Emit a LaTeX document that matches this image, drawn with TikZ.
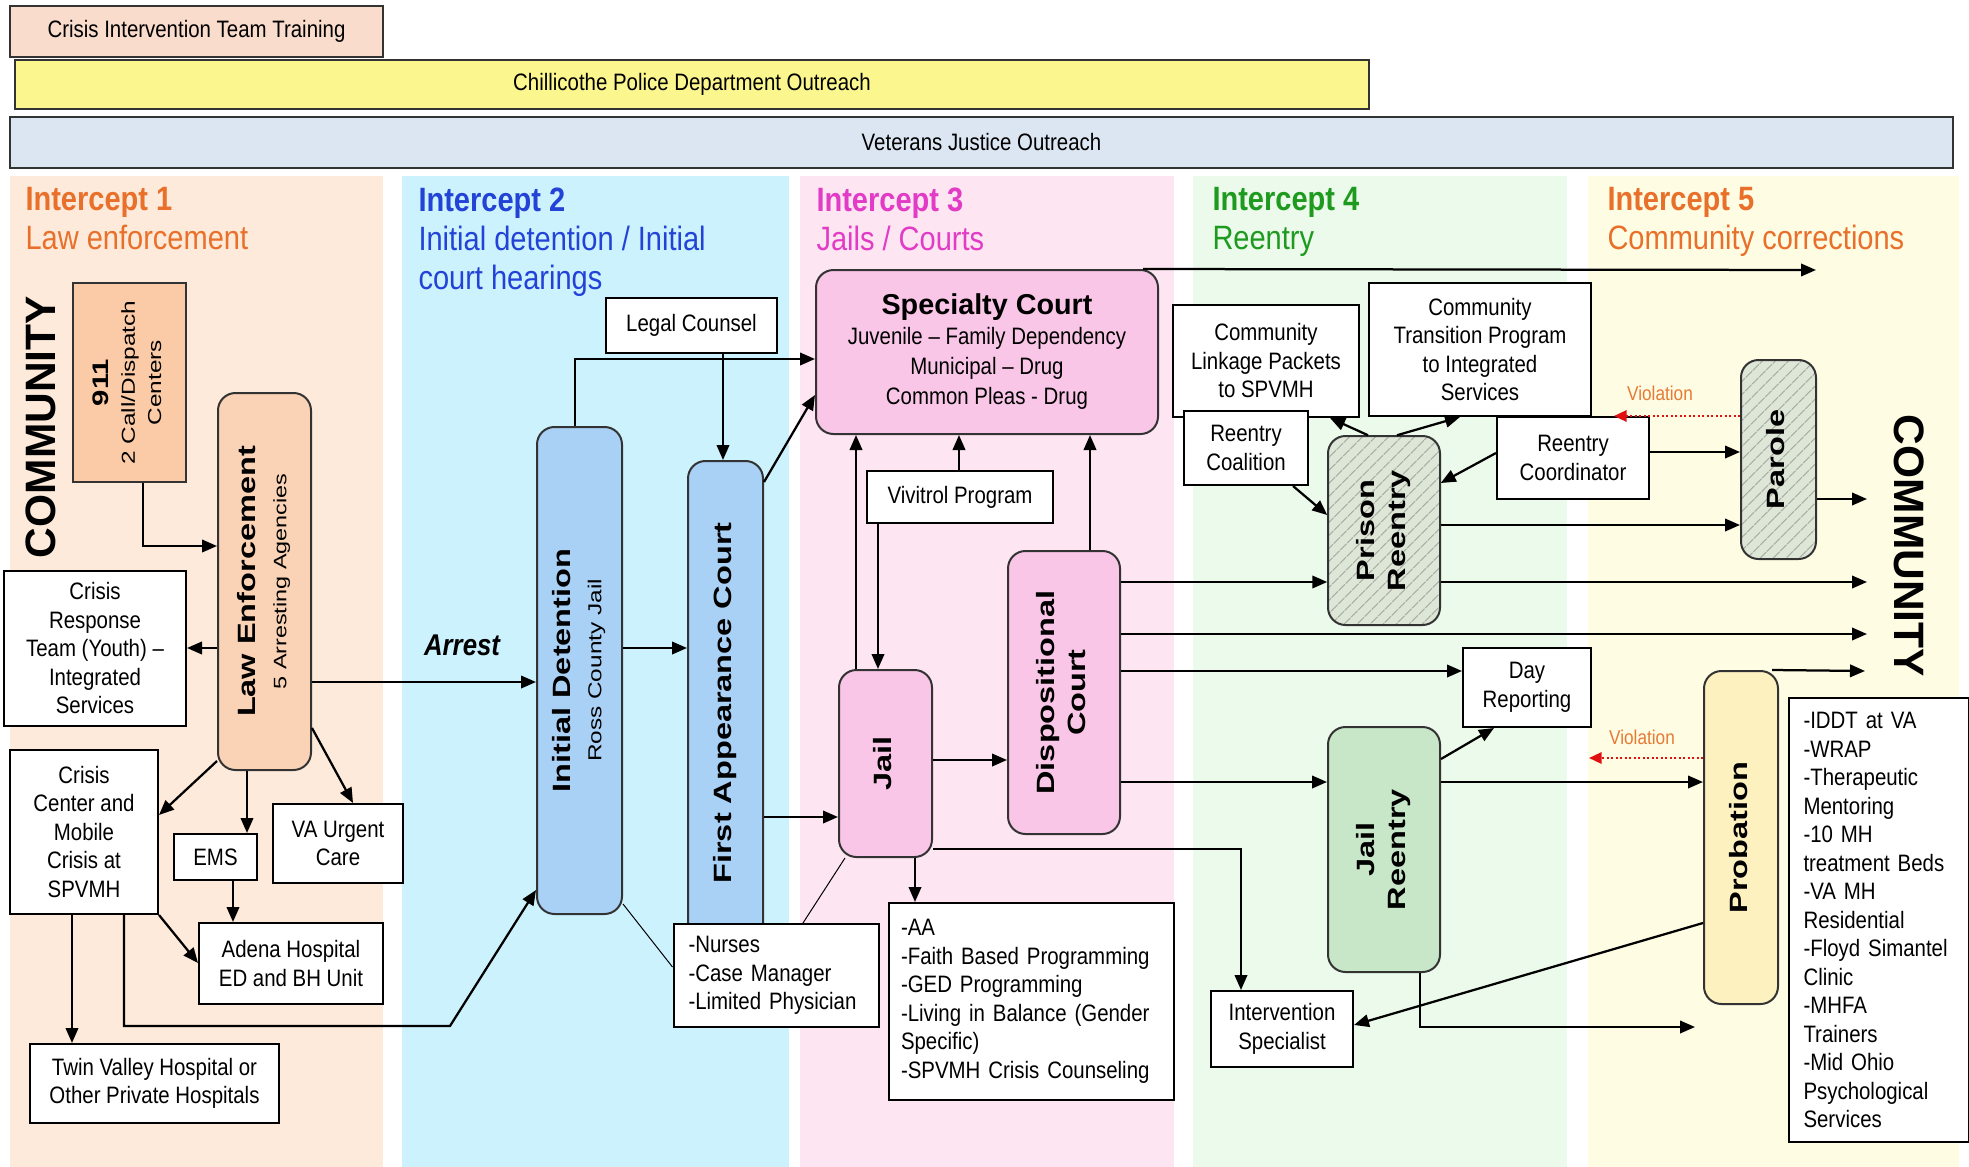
\documentclass[tikz,border=0pt]{standalone}
\usepackage{fontspec}
\setmainfont[FakeStretch=0.86]{Liberation Sans}
\newfontfamily\widesans{Liberation Sans}
\newfontfamily\tallsans[FakeStretch=1.3]{Liberation Sans}
\usetikzlibrary{arrows.meta,patterns.meta}

\definecolor{iOneBg}{HTML}{FDEADA}
\definecolor{iTwoBg}{HTML}{CCF2FE}
\definecolor{iThreeBg}{HTML}{FDE5F1}
\definecolor{iFourBg}{HTML}{EBFAEA}
\definecolor{iFiveBg}{HTML}{FFFCE4}
\definecolor{citFill}{HTML}{F9DCCC}
\definecolor{cpdFill}{HTML}{FBF78E}
\definecolor{vjoFill}{HTML}{DCE6F2}
\definecolor{peachDark}{HTML}{FBCBA7}
\definecolor{peachMid}{HTML}{FAD3B6}
\definecolor{blueBox}{HTML}{A9D0F5}
\definecolor{pinkBox}{HTML}{FAC6E8}
\definecolor{greenBox}{HTML}{C8E7C8}
\definecolor{yellowBox}{HTML}{FDF1C0}
\definecolor{hatchBg}{HTML}{DEE6D8}
\definecolor{hatchLine}{HTML}{A9B0A4}
\definecolor{orangeTitle}{HTML}{E8702A}
\definecolor{blueTitle}{HTML}{2243D6}
\definecolor{pinkTitle}{HTML}{E23CC6}
\definecolor{greenTitle}{HTML}{1E9A1E}
\definecolor{violText}{HTML}{E67A35}
\definecolor{violRed}{HTML}{E01010}

\newcommand{\vtext}[1]{\rotatebox{90}{\begin{tabular}{@{}c@{}}#1\end{tabular}}}

\begin{document}
\begin{tikzpicture}[x=0.4pt, y=-0.4pt,
        box/.style={
            rectangle, draw=black, line width=0.8pt, fill=white, inner sep=1pt,
            align=center, font=\fontsize{9.5}{11.4}\selectfont
        },
        listbox/.style={box, align=left, inner xsep=6pt},
        banner/.style={
            rectangle, draw=black!80, line width=0.7pt, inner sep=0pt,
            font=\fontsize{9.5}{11}\selectfont
        },
        stage/.style={
            rectangle, rounded corners=7pt, draw=black!80, line width=0.8pt, inner sep=0pt,
            font=\tallsans\bfseries\fontsize{10}{12.5}\selectfont
        },
        hatched/.style={
            stage, preaction={fill=hatchBg},
            pattern={Lines[angle=45, distance=4pt, line width=0.6pt]}, pattern color=hatchLine
        },
        title/.style={anchor=north west, inner sep=0pt, align=left, font=\fontsize{13.5}{15.6}\selectfont},
        community/.style={inner sep=0pt, font=\widesans\bfseries\fontsize{17}{17}\selectfont},
        arrest/.style={inner sep=0pt, font=\bfseries\itshape\fontsize{12}{13}\selectfont},
        violab/.style={text=violText, inner sep=0pt, font=\fontsize{8}{9}\selectfont},
        arr/.style={line width=0.9pt, -{Triangle[length=6pt, width=5pt]}},
        viol/.style={violRed, densely dotted, line width=0.8pt, -{Triangle[length=5pt, width=4.5pt]}},
    ]
    \useasboundingbox (0,0) rectangle (1969,1167);

    % columns
    \fill[iOneBg] (10,176) rectangle (383,1167);
    \fill[iTwoBg] (402,176) rectangle (789,1167);
    \fill[iThreeBg] (800,176) rectangle (1174,1167);
    \fill[iFourBg] (1193,176) rectangle (1567,1167);
    \fill[iFiveBg] (1588,176) rectangle (1959,1167);

    % banners
    \node (cit) [banner, fill=citFill, minimum width=149.2pt, minimum height=20.4pt] at (196.5,31.5) {Crisis Intervention Team Training};
    \node (cpd) [banner, fill=cpdFill, minimum width=541.6pt, minimum height=19.6pt] at (692,84.5) {Chillicothe Police Department Outreach};
    \node (vjo) [banner, fill=vjoFill, minimum width=777.2pt, minimum height=20.4pt] at (981.5,142.5) {Veterans Justice Outreach};

    \node (ttlOne) [title, text=orangeTitle] at (25,187) {\textbf{Intercept 1}\\Law enforcement};
    \node (ttlTwo) [title, text=blueTitle] at (418,187) {\textbf{Intercept 2}\\Initial detention / Initial\\court hearings};
    \node (ttlThree) [title, text=pinkTitle] at (816,187) {\textbf{Intercept 3}\\Jails / Courts};
    \node (ttlFour) [title, text=greenTitle] at (1212,187) {\textbf{Intercept 4}\\Reentry};
    \node (ttlFive) [title, text=orangeTitle] at (1607,187) {\textbf{Intercept 5}\\Community corrections};

    \node (commLeft) [community] at (41,427) {\rotatebox{90}{COMMUNITY}};
    \node (commRight) [community] at (1909,546) {\rotatebox{-90}{COMMUNITY}};

    % intercept 1
    \node (dispatch) [stage, rounded corners=0pt, fill=peachDark, minimum width=45.2pt, minimum height=79.6pt, font=\tallsans\bfseries\fontsize{9}{10.5}\selectfont] at (129.5,382.5)
        {\vtext{911\\\mdseries\fontsize{7.5}{9}\selectfont 2 Call/Dispatch\\\mdseries\fontsize{7.5}{9}\selectfont Centers}};
    \node (lawEnf) [stage, fill=peachMid, minimum width=37.2pt, minimum height=150.8pt] at (264.5,581.5)
        {\vtext{Law Enforcement\\\mdseries\fontsize{7.2}{9}\selectfont 5 Arresting Agencies}};
    \node (crisisTeam) [box, minimum width=72.8pt, minimum height=62pt] at (95,648.5) {Crisis\\Response\\Team (Youth) --\\Integrated\\Services};
    \node (crisisCtr) [box, minimum width=59.2pt, minimum height=65.6pt] at (84,832) {Crisis\\Center and\\Mobile\\Crisis at\\SPVMH};
    \node (ems) [box, minimum width=33.2pt, minimum height=18.4pt] at (215.5,857) {EMS};
    \node (vaCare) [box, minimum width=52pt, minimum height=31.6pt] at (338,843.5) {VA Urgent\\Care};
    \node (adena) [box, minimum width=73.6pt, minimum height=32.4pt] at (291,963.5) {Adena Hospital\\ED and BH Unit};
    \node (twinValley) [box, minimum width=99.6pt, minimum height=31.6pt] at (154.5,1083.5) {Twin Valley Hospital or\\Other Private Hospitals};
    \coordinate (arrestBend) at (450,1026);

    \draw[arr] (dispatch.south -| 143,0) |- (lawEnf.west |- 0,546);
    \draw[arr] (lawEnf.west |- 0,648) -- (crisisTeam.east |- 0,648);
    \draw[arr] ([yshift=4pt]lawEnf.south west) -- (crisisCtr.east |- 0,815);
    \draw[arr] (lawEnf.south -| 247,0) -- (ems.north -| 247,0);
    \draw[arr] (lawEnf.east |- 0,728) -- (vaCare.north -| 353,0);
    \draw[arr] (ems.south -| 233,0) -- (adena.north -| 233,0);
    \draw[arr] (crisisCtr.south east) -- (adena.west |- 0,963);
    \draw[arr] (crisisCtr.south -| 72,0) -- (twinValley.north -| 72,0);

    % intercept 2
    \node (detention) [stage, fill=blueBox, minimum width=34pt, minimum height=194.8pt] at (579.5,670.5)
        {\vtext{Initial Detention\\\mdseries\fontsize{7.5}{9}\selectfont Ross County Jail}};
    \node (firstApp) [stage, fill=blueBox, minimum width=30pt, minimum height=193.6pt] at (725.5,703) {\vtext{First Appearance Court}};
    \node (legal) [box, minimum width=68.4pt, minimum height=22pt] at (691.5,325.5) {Legal Counsel};
    \node (medical) [listbox, text width=70pt, minimum height=41.2pt] at (776,975.5) {-Nurses\\-Case Manager\\-Limited Physician};

    \draw[arr] (crisisCtr.south -| 124,0) |- (arrestBend) -- (detention.west |- 0,890);
    \draw[arr] (lawEnf.east |- 0,682) -- node[arrest, pos=0.67, above=10pt] (arrestLbl) {Arrest} (detention.west |- 0,682);
    \draw[arr] (legal.south -| 723,0) -- (firstApp.north -| 723,0);
    \draw[arr] (detention.east |- 0,648) -- (firstApp.west |- 0,648);

    % intercept 3
    \node (specialty) [stage, fill=pinkBox, align=center, minimum width=136.8pt, minimum height=65.6pt, font=\fontsize{9.5}{12}\selectfont] at (987,352)
        {{\widesans\bfseries\fontsize{11.5}{13}\selectfont Specialty Court}\\Juvenile -- Family Dependency\\Municipal -- Drug\\Common Pleas - Drug};
    \node (vivitrol) [box, minimum width=74.4pt, minimum height=20.8pt] at (960,497) {Vivitrol Program};
    \node (jail) [stage, fill=pinkBox, minimum width=37.2pt, minimum height=74.8pt] at (885.5,763.5) {\vtext{Jail}};
    \node (dispo) [stage, fill=pinkBox, minimum width=44.8pt, minimum height=113.2pt] at (1064,692.5) {\vtext{Dispositional\\Court}};
    \node (programs) [listbox, inner xsep=5pt, text width=104pt, minimum height=78.8pt] at (1031,1001.5)
        {-AA\\-Faith Based Programming\\-GED Programming\\-Living in Balance (Gender\\Specific)\\-SPVMH Crisis Counseling};

    \draw[arr] (detention.north -| 575,0) |- (specialty.west |- 0,359);
    \draw[arr] ([yshift=-8.8pt]firstApp.north east) -- (specialty.west |- 0,395);
    \draw[arr] (firstApp.east |- 0,817) -- (jail.west |- 0,817);
    \draw (detention.east |- 0,904) -- (medical.west |- 0,967);
    \draw (jail.south -| 845,0) -- (medical.north -| 803,0);
    \draw[arr] (vivitrol.north -| 959,0) -- (specialty.south -| 959,0);
    \draw[arr] (vivitrol.south -| 878,0) -- (jail.north -| 878,0);
    \draw[arr] (jail.north -| 856,0) -- (specialty.south -| 856,0);
    \draw[arr] (dispo.north -| 1090,0) -- (specialty.south -| 1090,0);
    \draw[arr] (jail.east |- 0,760) -- (dispo.west |- 0,760);
    \draw[arr] (jail.south -| 915,0) -- (programs.north -| 915,0);

    % intercept 4
    \node (linkage) [box, minimum width=74.4pt, minimum height=44.8pt] at (1266,361) {Community\\Linkage Packets\\to SPVMH};
    \node (coalition) [box, minimum width=49.6pt, minimum height=29.6pt] at (1246,448) {Reentry\\Coalition};
    \node (transition) [box, minimum width=88.8pt, minimum height=53.2pt] at (1480,349.5) {Community\\Transition Program\\to Integrated\\Services};
    \node (coordinator) [box, minimum width=60.8pt, minimum height=32.8pt] at (1573,458) {Reentry\\Coordinator};
    \node (prison) [hatched, minimum width=44.8pt, minimum height=75.6pt] at (1384,530.5) {\vtext{Prison\\Reentry}};
    \node (dayRep) [box, minimum width=51.2pt, minimum height=31.6pt] at (1527,687.5) {Day\\Reporting};
    \node (jailRe) [stage, fill=greenBox, minimum width=44.8pt, minimum height=98pt] at (1384,849.5) {\vtext{Jail\\Reentry}};
    \node (specialist) [box, minimum width=56.8pt, minimum height=30.4pt] at (1282,1029) {Intervention\\Specialist};

    % intercept 5
    \node (parole) [hatched, minimum width=30pt, minimum height=79.6pt] at (1778.5,459.5) {\vtext{Parole}};
    \node (probation) [stage, fill=yellowBox, minimum width=29.6pt, minimum height=133.2pt] at (1741,837.5) {\vtext{Probation}};
    \node (services) [listbox, text width=60pt, minimum height=177.6pt] at (1878.5,920)
        {-IDDT at VA\\-WRAP\\-Therapeutic\\Mentoring\\-10 MH\\treatment Beds\\-VA MH\\Residential\\-Floyd Simantel\\Clinic\\-MHFA\\Trainers\\-Mid Ohio\\Psychological\\Services};
    \node (violTopLbl) [violab] at (1660,393) {Violation};
    \node (violLowLbl) [violab] at (1642,737) {Violation};

    \coordinate (outTop) at (1816,270);
    \coordinate (outParole) at (1867,499);
    \coordinate (outPrison) at (1867,582);
    \coordinate (outDispo) at (1867,634);
    \coordinate (outProb) at (1865,671);
    \coordinate (outJailRe) at (1695,1027);
    \coordinate (violTop) at (1614,416);
    \coordinate (violLow) at (1589,758);

    \draw[arr] (specialty.north -| 1143,0) -- (outTop);
    \draw[arr] (jail.east |- 0,849) -| (specialist.north -| 1241,0);
    \draw[arr] (dispo.east |- 0,582) -- (prison.west |- 0,582);
    \draw[arr] (dispo.east |- 0,634) -- (outDispo);
    \draw[arr] (dispo.east |- 0,671) -- (dayRep.west |- 0,671);
    \draw[arr] (dispo.east |- 0,782) -- (jailRe.west |- 0,782);
    \draw[arr] (prison.north -| 1368,0) -- (linkage.south -| 1330,0);
    \draw[arr] (prison.north -| 1397,0) -- (transition.south -| 1460,0);
    \draw[arr] (coalition.south -| 1293,0) -- (prison.west |- 0,515);
    \draw[arr] (coordinator.west |- 0,453) -- (prison.east |- 0,483);
    \draw[arr] (coordinator.east |- 0,452) -- (parole.west |- 0,452);
    \draw[arr] (prison.east |- 0,525) -- (parole.west |- 0,525);
    \draw[arr] (prison.east |- 0,582) -- (outPrison);
    \draw[arr] (jailRe.east |- 0,759) -- (dayRep.south -| 1494,0);
    \draw[arr] (jailRe.east |- 0,782) -- (probation.west |- 0,782);
    \draw[arr] (jailRe.south -| 1420,0) |- (outJailRe);
    \draw[arr] (probation.west |- 0,923) -- (specialist.east |- 0,1025);
    \draw[arr] (parole.east |- 0,499) -- (outParole);
    \draw[arr] (probation.north -| 1772,0) -- (outProb);
    \draw[viol] (parole.west |- 0,416) -- (violTop);
    \draw[viol] (probation.west |- 0,758) -- (violLow);
\end{tikzpicture}
\end{document}
